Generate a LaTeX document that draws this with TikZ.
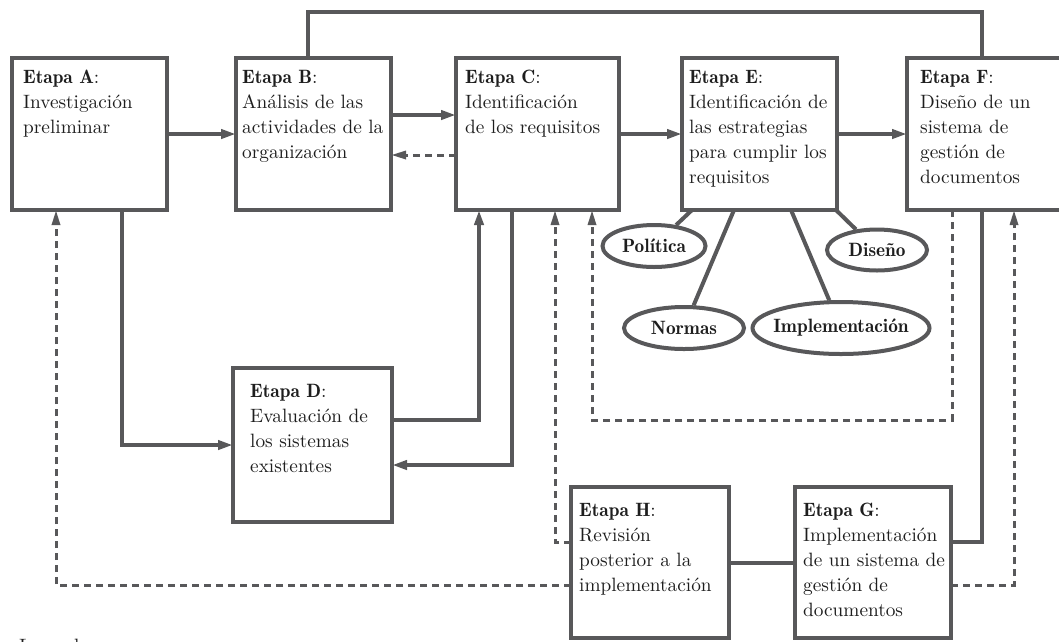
\documentclass[tikz,border=0pt]{standalone}
\usepackage{fontspec}
\setmainfont{lmroman10-regular.otf}[BoldFont=lmromandemi10-regular.otf]
\usetikzlibrary{arrows.meta,shapes.geometric,calc}
\definecolor{ln}{RGB}{88,88,90}
\definecolor{tx}{RGB}{30,30,30}
\newcommand\jl[2]{\makebox[#1][s]{#2}}
\begin{document}
\begin{tikzpicture}[x=1pt,y=-1pt,
  box/.style={draw=ln, line width=4pt, rectangle, inner sep=0pt, outer sep=0pt, anchor=north west},
  txt/.style={text=tx, font=\fontsize{19.3}{25}\selectfont, inner sep=0pt, anchor=base west, align=left, text width=152pt},
  conn/.style={draw=ln, line width=4pt},
  arr/.style={conn, -{Triangle[length=15pt,width=9pt]}},
  darr/.style={draw=ln, line width=3pt, dash pattern=on 7pt off 5pt, -{Triangle[length=15pt,width=8pt]}},
  ell/.style={draw=ln, line width=4pt, ellipse, inner sep=0pt, text=tx, font=\fontsize{19.3}{22}\selectfont\bfseries}]
\useasboundingbox (0,0) rectangle (1059,641);
\fill[white] (0,0) rectangle (1059,641);

% boxes
\node[box, minimum width=155pt, minimum height=152pt] (A) at (12,58) {};
\node[box, minimum width=155pt, minimum height=152pt] (B) at (236,58) {};
\node[box, minimum width=163pt, minimum height=152pt] (C) at (456,58) {};
\node[box, minimum width=155pt, minimum height=152pt] (E) at (682,58) {};
\node[box, minimum width=165pt, minimum height=152pt] (F) at (907,58) {};
\node[box, minimum width=159pt, minimum height=154pt] (D) at (233,368) {};
\node[box, minimum width=158pt, minimum height=151pt] (H) at (571,487) {};
\node[box, minimum width=156pt, minimum height=151pt] (G) at (795,487) {};

% texts
\node[txt] (At) at ([xshift=11pt,yshift=-25pt]A.north west) {{\bfseries Etapa A}:\\Investigación\\preliminar};
\node[txt] (Bt) at ([xshift=6pt,yshift=-25pt]B.north west) {{\bfseries Etapa B}:\\Análisis de las\\actividades de la\\organización};
\node[txt] (Ct) at ([xshift=9pt,yshift=-25pt]C.north west) {{\bfseries Etapa C}:\\Identificación\\de los requisitos};
\node[txt] (Et) at ([xshift=7pt,yshift=-25pt]E.north west) {{\bfseries Etapa E}:\\\jl{140pt}{Identificación de}\\\jl{140pt}{las estrategias}\\\jl{140pt}{para cumplir los}\\requisitos};
\node[txt] (Ft) at ([xshift=13pt,yshift=-25pt]F.north west) {{\bfseries Etapa F}:\\Diseño de un\\sistema de\\gestión de\\documentos};
\node[txt] (Dt) at ([xshift=17pt,yshift=-29pt]D.north west) {{\bfseries Etapa D}:\\\jl{125pt}{Evaluación de}\\\jl{125pt}{los sistemas}\\existentes};
\node[txt] (Ht) at ([xshift=8pt,yshift=-29pt]H.north west) {{\bfseries Etapa H}:\\Revisión\\posterior a la\\implementación};
\node[txt] (Gt) at ([xshift=8pt,yshift=-29pt]G.north west) {{\bfseries Etapa G}:\\Implementación\\de un sistema de\\gestión de\\documentos};

% ellipses
\node[ell, minimum width=103pt, minimum height=42pt] (pol) at (654,246) {\makebox[0pt]{Política}};
\node[ell, minimum width=100pt, minimum height=41pt] (dis) at (877,250) {\makebox[0pt]{Diseño}};
\node[ell, minimum width=120pt, minimum height=42pt] (nor) at (684,328) {\makebox[0pt]{Normas}};
\node[ell, minimum width=177pt, minimum height=52pt] (imp) at (841,328) {\makebox[0pt]{Implementación}};

\draw[conn] ([xshift=10pt]E.south west) -- (pol);
\draw[conn] ([xshift=52pt]E.south west) -- (nor);
\draw[conn] ([xshift=109pt]E.south west) -- (imp);
\draw[conn] ([xshift=154pt]E.south west) -- (dis);

% top row connectors
\draw[arr] (A) -- (B);
\draw[arr] ([yshift=19pt]B.east) -- ([yshift=19pt]C.west);
\draw[darr] ([yshift=-21pt]C.west) -- ([yshift=-21pt]B.east);
\draw[arr] (C) -- (E);
\draw[arr] (E.east) -- (E.east -| F.west);
\coordinate (topr) at (982,12);
\draw[conn] ([xshift=-5.5pt]B.north) |- (topr) -- ([xshift=75pt]F.north west);

% A, C and D
\draw[arr] ([xshift=110pt]A.south west) |- (D.west);
\draw[arr] ([yshift=25pt]D.east) -| ([xshift=23pt]C.south west);
\draw[arr] ([xshift=56pt]C.south west) |- ([yshift=-20pt]D.east);

% feedback from H, F, G
\draw[darr] ([yshift=20.5pt]H.west) -| ([xshift=99pt]C.south west);
\coordinate (fc) at (592,420);
\draw[darr] ([xshift=45pt]F.south west) |- (fc) -- ([xshift=136pt]C.south west);
\draw[conn] ([xshift=75pt]F.south west) |- ([yshift=20.5pt]G.east);
\draw[darr] ([yshift=-22.5pt]G.east) -| ([xshift=107pt]F.south west);
\draw[darr] ([yshift=-22.5pt]H.west) -| ([xshift=44pt]A.south west);
\draw[conn] (H) -- (G);

\node[text=tx, font=\fontsize{19.3}{22}\selectfont, inner sep=0pt, anchor=north west] (ley) at (19,638.5) {Leyenda};
\end{tikzpicture}
\end{document}
